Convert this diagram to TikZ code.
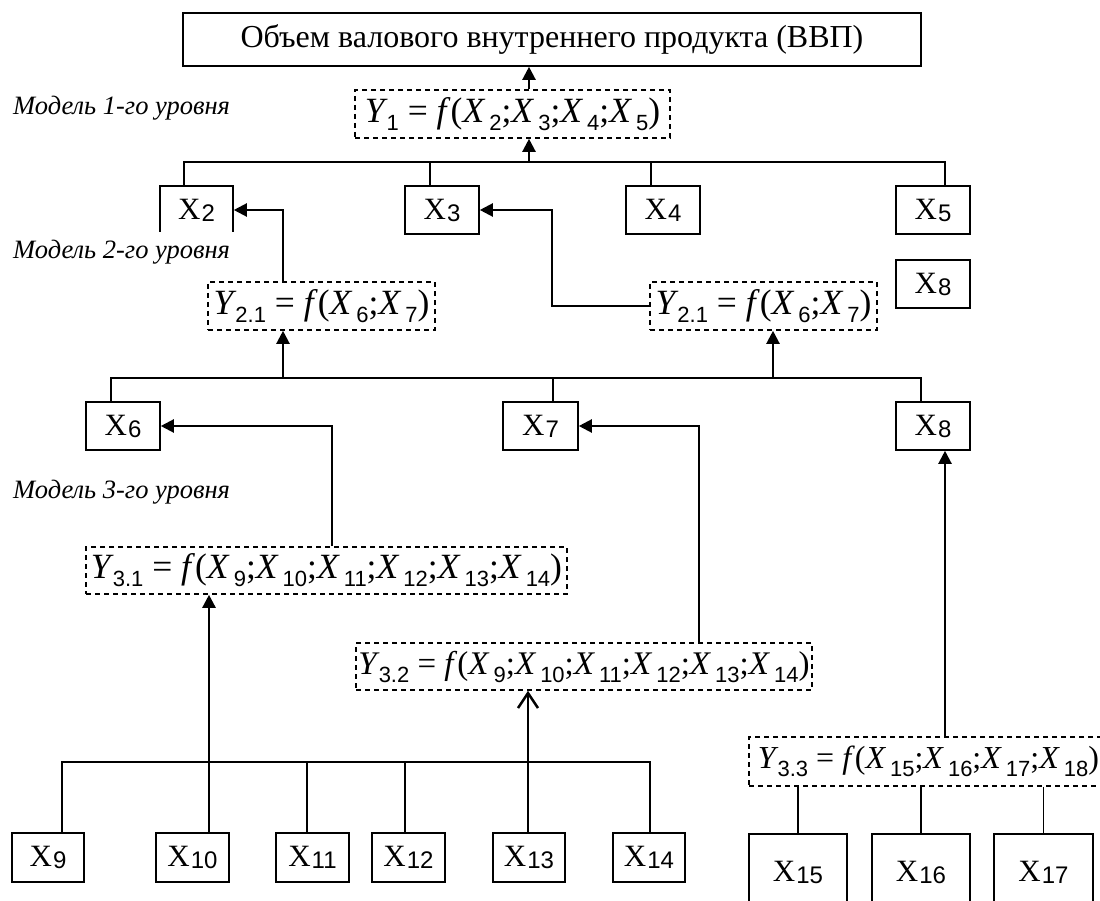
\documentclass[tikz,border=0pt]{standalone}
\usepackage{fontspec}
\setmainfont{Liberation Serif}
\setsansfont{Liberation Sans}
\usetikzlibrary{arrows.meta,calc}

% font sizes
\newcommand{\topfont}{\fontsize{32}{38}\selectfont}
\newcommand{\frmfont}{\fontsize{35.5}{38}\selectfont}
\newcommand{\subfont}{\sffamily\fontsize{22}{22}\selectfont}
% X with sans index inside the boxes
\newcommand{\xs}[1]{X\kern1pt\raisebox{-2pt}{\sffamily\fontsize{24}{24}\selectfont #1}}
% italic letter with index in formulas
\newcommand{\fx}[2]{\textit{#1}\kern4pt\raisebox{-8pt}{\subfont #2}}
\newcommand{\fy}[1]{\textit{Y}\kern-1pt\raisebox{-8pt}{\subfont #1}}

\begin{document}
\begin{tikzpicture}[x=1pt,y=-1pt,
    xbox/.style={draw, line width=1.6pt, inner sep=0pt, minimum width=73pt,
      minimum height=48pt, font=\fontsize{31}{34}\selectfont},
    ybox/.style={draw, dashed, dash pattern=on 5pt off 4pt, line width=1.6pt,
      inner sep=0pt, minimum height=48pt, font=\frmfont},
    lvl/.style={anchor=west, fill=white, inner xsep=4pt, minimum height=40pt,
      font=\itshape\fontsize{26.5}{30}\selectfont},
    ln/.style={line width=1.6pt},
    arr/.style={line width=2.2pt, -{Triangle[length=13pt,width=13pt]}},
    oarr/.style={line width=2.5pt, -{Straight Barb[length=15pt,width=20pt]}}]
  \useasboundingbox (0,0) rectangle (1100,901);
  \clip (0,0) rectangle (1100,901);

  % level 1
  \node[draw, line width=1.6pt, minimum width=738pt, minimum height=53pt, font=\topfont]
    (top) at (552,39.5) {Объем валового внутреннего продукта (ВВП)};
  \node[ybox, minimum width=315pt] (Y1) at (512.5,114)
    {\fy{1} = \textit{f}(\fx{X}{2};\fx{X}{3};\fx{X}{4};\fx{X}{5})};
  \node[xbox] (X2) at (196.5,210) {\xs{2}};
  \node[xbox, minimum width=74pt] (X3) at (442,210) {\xs{3}};
  \node[xbox, minimum width=74pt] (X4) at (663,210) {\xs{4}};
  \node[xbox, minimum width=74pt] (X5) at (933,210) {\xs{5}};
  \node[xbox, minimum width=74pt] (X8a) at (933,284) {\xs{8}};

  % level 2
  \node[ybox, minimum width=227pt] (Y2a) at (321.5,306)
    {\fy{2.1} = \textit{f}(\fx{X}{6};\fx{X}{7})};
  \node[ybox, minimum width=227pt] (Y2b) at (763.5,306)
    {\fy{2.1} = \textit{f}(\fx{X}{6};\fx{X}{7})};
  \node[xbox, minimum width=74pt] (X6) at (123,426) {\xs{6}};
  \node[xbox, minimum width=75pt] (X7) at (540.5,426) {\xs{7}};
  \node[xbox, minimum width=74pt] (X8b) at (933,426) {\xs{8}};

  % level 3
  \node[ybox, minimum width=481pt, minimum height=47pt] (Y3a) at (326.5,570.5)
    {\fy{3.1} = \textit{f}(\fx{X}{9};\fx{X}{10};\fx{X}{11};\fx{X}{12};\fx{X}{13};\fx{X}{14})};
  \node[ybox, minimum width=456pt, minimum height=47pt, font=\fontsize{33}{38}\selectfont]
    (Y3b) at (584,666.5)
    {\fy{3.2} = \textit{f}(\fx{X}{9};\fx{X}{10};\fx{X}{11};\fx{X}{12};\fx{X}{13};\fx{X}{14})};
  \node[ybox, minimum width=359pt, minimum height=49pt, font=\fontsize{32}{38}\selectfont]
    (Y3c) at (928.5,761.5)
    {\fy{3.3} = \textit{f}(\fx{X}{15};\fx{X}{16};\fx{X}{17};\fx{X}{18})};
  \node[xbox, minimum width=72pt, minimum height=49pt] (X9) at (48,857.5) {\xs{9}};
  \node[xbox, minimum height=49pt] (X10) at (192.5,857.5) {\xs{10}};
  \node[xbox, minimum height=49pt] (X11) at (312.5,857.5) {\xs{11}};
  \node[xbox, minimum height=49pt] (X12) at (408.5,857.5) {\xs{12}};
  \node[xbox, minimum width=72pt, minimum height=49pt] (X13) at (529,857.5) {\xs{13}};
  \node[xbox, minimum width=72pt, minimum height=49pt] (X14) at (649,857.5) {\xs{14}};
  \node[xbox, minimum width=98pt, minimum height=76pt] (X15) at (798,872) {\xs{15}};
  \node[xbox, minimum width=98pt, minimum height=76pt] (X16) at (921,872) {\xs{16}};
  \node[xbox, minimum width=99pt, minimum height=76pt] (X17) at (1043.5,872) {\xs{17}};

  % level captions
  \node[lvl] (m1) at (9,108) {Модель 1-го уровня};
  \node[lvl] (m2) at (9,252) {Модель 2-го уровня};
  \node[lvl] (m3) at (9,492) {Модель 3-го уровня};

  % connectors, level 1
  \coordinate (b1) at (529,162);
  \draw[arr] (Y1.north -| b1) -- (top.south -| b1);
  \draw[arr] (b1) -- (Y1.south -| b1);
  \foreach \n/\d in {X2/-12.5,X3/-12,X4/-12,X5/12}
    \draw[ln] ($(\n.north)+(\d,0)$) |- (b1);

  % connectors, level 2
  \coordinate (u2a) at (283,210);
  \coordinate (u2b) at (552,210);
  \draw[arr] (Y2a.north -| u2a) -- (u2a) -- (X2.east);
  \draw[arr] (Y2b.west) -| (u2b) -- (X3.east);
  \coordinate (b2a) at (283,378);
  \coordinate (b2b) at (773,378);
  \foreach \n/\d in {X6/-12,X7/12.5,X8b/-12}
    \draw[ln] ($(\n.north)+(\d,0)$) |- (b2a);
  \draw[arr] (b2a) -- (Y2a.south -| b2a);
  \draw[arr] (b2b) -- (Y2b.south -| b2b);

  % connectors, level 3
  \coordinate (u3a) at (332,426);
  \coordinate (u3b) at (699,426);
  \coordinate (u3c) at (945,450);
  \draw[arr] (Y3a.north -| u3a) -- (u3a) -- (X6.east);
  \draw[arr] (Y3b.north -| u3b) -- (u3b) -- (X7.east);
  \draw[arr] (Y3c.north -| u3c) -- (X8b.south -| u3c);
  \coordinate (b3a) at (209,762);
  \coordinate (b3b) at (528,762);
  \foreach \n/\d in {X9/14,X11/-5.5,X12/-3.5,X14/1}
    \draw[ln] ($(\n.north)+(\d,0)$) |- (b3a);
  \draw[arr, line width=2.5pt] (X10.north -| b3a) -- (Y3a.south -| b3a);
  \draw[oarr] (X13.north -| b3b) -- (Y3b.south -| b3b);
  \foreach \n in {X15,X16,X17}
    \draw[ln] (\n.north) -- (Y3c.south -| \n.north);
\end{tikzpicture}
\end{document}
